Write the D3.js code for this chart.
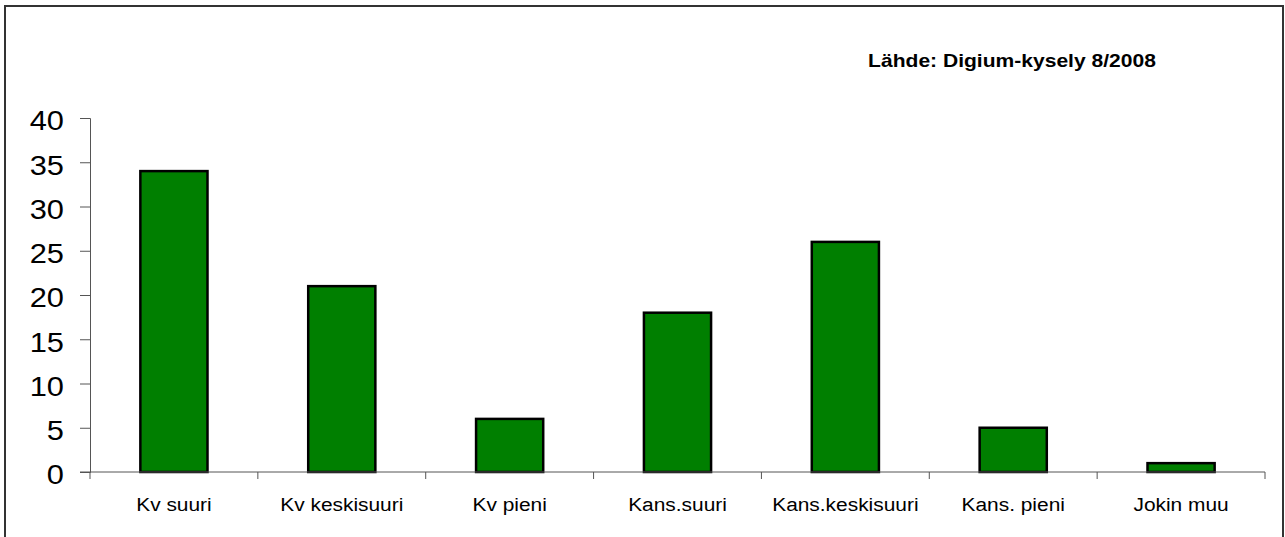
<!DOCTYPE html>
<html>
<head>
<meta charset="utf-8">
<script src="https://cdn.jsdelivr.net/npm/d3@7"></script>
<style>
  body { margin: 0; background: #fff; }
  text { font-family: "Liberation Sans", Arial, sans-serif; }
</style>
</head>
<body>
<div id="chart"></div>
<script>
// chart data
var categories = ["Kv suuri", "Kv keskisuuri", "Kv pieni", "Kans.suuri", "Kans.keskisuuri", "Kans. pieni", "Jokin muu"];
var values = [34, 21, 6, 18, 26, 5, 1];
var yTicks = [0, 5, 10, 15, 20, 25, 30, 35, 40];
var sourceText = "Lähde: Digium-kysely 8/2008";

var svgWidth = 1285;
var svgHeight = 537;
var stretch = 1.1; // text in the original is a bit wide

var margin = { top: 118, right: 20, bottom: 65, left: 90 };
var width = 1265 - margin.left;
var height = 472 - margin.top;

var svg = d3.select("#chart")
    .append("svg")
    .attr("width", svgWidth)
    .attr("height", svgHeight);

// outer frame
svg.append("rect")
    .attr("x", 5)
    .attr("y", 6)
    .attr("width", 1278)
    .attr("height", 540)
    .attr("fill", "none")
    .attr("stroke", "#333")
    .attr("stroke-width", 2);

svg.append("text")
    .attr("transform", "translate(1012, 67) scale(1.17, 1)")
    .attr("text-anchor", "middle")
    .attr("font-size", "18px")
    .attr("font-weight", "bold")
    .attr("fill", "#000")
    .text(sourceText);

var chartGroup = svg.append("g")
    .attr("transform", `translate(${margin.left}, ${margin.top})`);

var x = d3.scaleBand()
    .domain(categories)
    .range([0, width])
    .paddingInner(0.6)
    .paddingOuter(0.3);

var y = d3.scaleLinear()
    .domain([0, 40])
    .range([height, 0]);

// bars
chartGroup.selectAll("rect.bar")
    .data(values)
    .enter()
    .append("rect")
    .attr("class", "bar")
    .attr("x", (d, i) => x(categories[i]))
    .attr("y", d => y(d))
    .attr("width", x.bandwidth())
    .attr("height", d => height - y(d))
    .attr("fill", "#007f00")
    .attr("stroke", "#000")
    .attr("stroke-width", 2.5);

// y axis
var leftAxis = d3.axisLeft(y)
    .tickValues(yTicks)
    .tickSize(10);

var yAxis = chartGroup.append("g").call(leftAxis);
yAxis.select(".domain").attr("stroke", "#555");
yAxis.selectAll(".tick line").attr("stroke", "#555");
yAxis.selectAll("text")
    .attr("x", -26 / stretch)
    .attr("transform", `scale(${stretch}, 1)`)
    .attr("font-size", "28px")
    .attr("fill", "#000")
    .attr("dy", "0.42em");

// x axis: ticks between categories
var xAxisGroup = chartGroup.append("g")
    .attr("transform", `translate(0, ${height})`);

xAxisGroup.append("line")
    .attr("x1", -10)
    .attr("x2", width)
    .attr("stroke", "#555");

xAxisGroup.selectAll("line.sep")
    .data(d3.range(categories.length + 1))
    .enter()
    .append("line")
    .attr("class", "sep")
    .attr("x1", d => d * width / categories.length)
    .attr("x2", d => d * width / categories.length)
    .attr("y1", 0)
    .attr("y2", 7)
    .attr("stroke", "#555");

xAxisGroup.selectAll("text")
    .data(categories)
    .enter()
    .append("text")
    .attr("transform", d => `translate(${x(d) + x.bandwidth() / 2}, 38.5) scale(${stretch}, 1)`)
    .attr("text-anchor", "middle")
    .attr("font-size", "19px")
    .attr("fill", "#000")
    .text(d => d);
</script>
</body>
</html>
